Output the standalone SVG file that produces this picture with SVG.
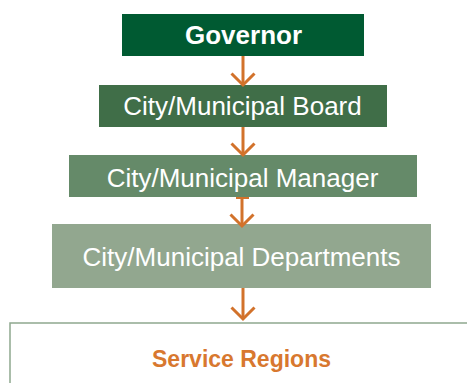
<svg xmlns="http://www.w3.org/2000/svg" width="467" height="383" viewBox="0 0 467 383">
<style>
.lbl{font-family:"Liberation Sans",Arial,sans-serif;font-size:26px;fill:#ffffff;text-anchor:middle}
.b{font-weight:bold}
.conn{stroke:#D2722B;stroke-width:3;fill:none}
</style>
<defs>
<marker id="ah" markerUnits="userSpaceOnUse" markerWidth="30" markerHeight="30" refX="15" refY="15" orient="auto" viewBox="0 0 30 30">
<path d="M3.5,3.5 L15,15 L26.5,3.5" transform="rotate(-90 15 15)" stroke="#D2722B" stroke-width="3" fill="none"/>
</marker>
</defs>
<rect width="467" height="383" fill="#ffffff"/>
<g id="governor">
<rect x="122" y="14" width="242" height="42" fill="#005A32"/>
<text class="lbl b" x="243.5" y="44">Governor</text>
</g>
<g id="board">
<rect x="99" y="85" width="288" height="42" fill="#406E48"/>
<text class="lbl" x="242.5" y="114.5">City/Municipal Board</text>
</g>
<g id="manager">
<rect x="69" y="155" width="348" height="42" fill="#658A69"/>
<text class="lbl" x="242.5" y="186.5">City/Municipal Manager</text>
</g>
<g id="departments">
<rect x="52" y="224" width="379" height="64" fill="#92A78F"/>
<text class="lbl" x="241.5" y="265.5">City/Municipal Departments</text>
</g>
<g id="service-regions">
<rect x="10" y="323" width="470" height="80" fill="#ffffff" stroke="#8FA88F" stroke-width="1.5"/>
<text x="241.5" y="367" font-family="'Liberation Sans',Arial,sans-serif" font-size="23" font-weight="bold" fill="#D8782F" text-anchor="middle">Service Regions</text>
</g>
<g id="connectors">
<line class="conn" x1="243" y1="56" x2="243" y2="85" marker-end="url(#ah)"/>
<line class="conn" x1="243" y1="127" x2="243" y2="155" marker-end="url(#ah)"/>
<line class="conn" x1="242" y1="197" x2="242" y2="226" marker-end="url(#ah)"/>
<line x1="236" y1="198" x2="249" y2="198" stroke="#D2722B" stroke-width="2"/>
<line class="conn" x1="243" y1="288" x2="243" y2="319" marker-end="url(#ah)"/>
</g>
</svg>
